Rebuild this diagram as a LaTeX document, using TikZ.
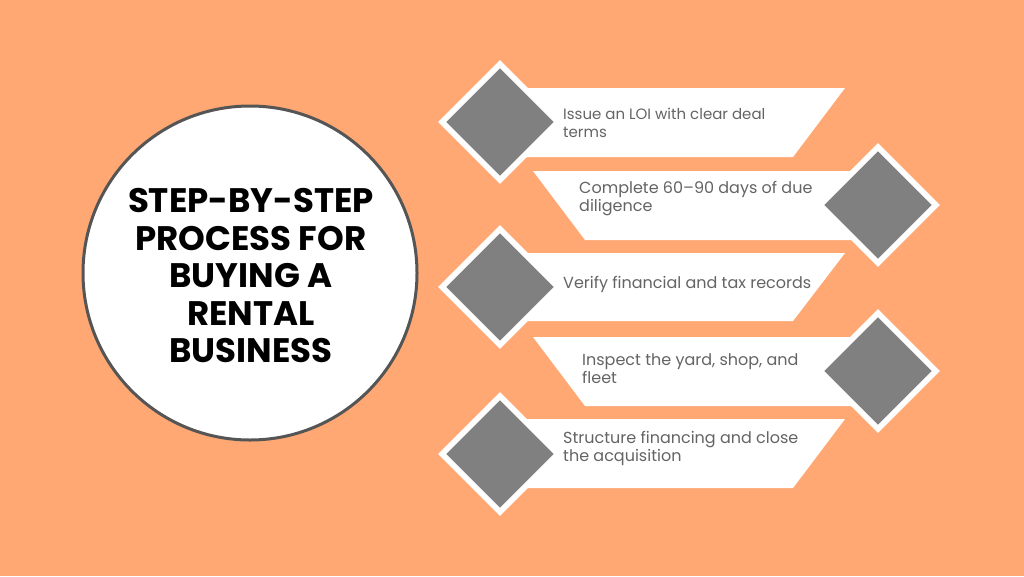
\documentclass[tikz,border=0pt]{standalone}
\usepackage{fontspec}
\setmainfont{Poppins}
\usetikzlibrary{shapes.geometric}
\definecolor{bgorange}{RGB}{255,168,115}
\definecolor{gemgray}{RGB}{128,128,128}
\definecolor{txtgray}{RGB}{100,100,100}
\definecolor{ringgray}{RGB}{85,85,85}
\tikzset{
	stepgem/.style={diamond, draw=white, line width=5.7pt, fill=gemgray, minimum width=118pt, minimum height=118pt, inner sep=0pt},
	steptext/.style={anchor=west, align=left, text=txtgray, inner sep=0pt, font=\fontsize{16}{18.5}\selectfont},
	banner/.style={fill=white}
}

\begin{document}
\begin{tikzpicture}[x=1pt,y=-1pt]
				\fill[bgorange] (0,0) rectangle (1024,576);
				\useasboundingbox (0,0) rectangle (1024,576);
				\node (ring) at (250,273) [circle, draw=ringgray, line width=3pt, fill=white, minimum size=334pt, inner sep=0pt] {};
				\node (title) at (251,276) [align=center, font=\fontsize{34}{37.5}\selectfont\bfseries] {STEP-BY-STEP\\PROCESS FOR\\BUYING A\\RENTAL\\BUSINESS};
				\fill[banner] (500,88) -- (845,88) -- (793,157) -- (500,157) -- cycle;
				\fill[banner] (878,171) -- (533,171) -- (585,240) -- (878,240) -- cycle;
				\fill[banner] (500,253) -- (845,253) -- (793,321) -- (500,321) -- cycle;
				\fill[banner] (878,337) -- (533,337) -- (585,406) -- (878,406) -- cycle;
				\fill[banner] (500,419) -- (845,419) -- (793,488) -- (500,488) -- cycle;
				\node (g1) at (500,122) [stepgem] {};
				\node (g2) at (878,205) [stepgem] {};
				\node (g3) at (500,287) [stepgem] {};
				\node (g4) at (878,371) [stepgem] {};
				\node (g5) at (500,454) [stepgem] {};
				\node (s1) at (563,123) [steptext, font=\fontsize{15}{17.5}\selectfont] {Issue an LOI with clear deal\\terms};
				\node (s2) at (579,198.5) [steptext] {Complete 60–90 days of due\\diligence};
				\node (s3) at (563,284) [steptext] {Verify financial and tax records};
				\node (s4) at (582,368.5) [steptext] {Inspect the yard, shop, and\\fleet};
				\node (s5) at (563,448.5) [steptext] {Structure financing and close\\the acquisition};
			\end{tikzpicture}
\end{document}
